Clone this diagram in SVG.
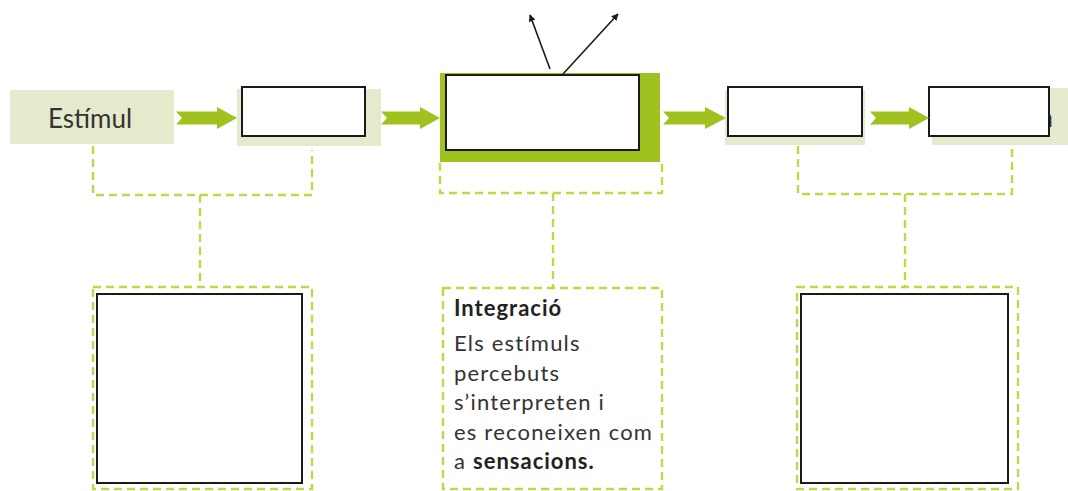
<svg xmlns="http://www.w3.org/2000/svg" width="1068" height="491" viewBox="0 0 1068 491">
<style>
.bg{fill:#e4eacb}
.wbox{fill:#ffffff;stroke:#1a1a1a;stroke-width:2}
.garrow{fill:#9fc21f}
.dash{fill:none;stroke:#bfd843;stroke-width:2.4;stroke-dasharray:8 5}
.blk{stroke:#1a1a1a;stroke-width:1.6;fill:none}
.t{font-family:Lato,"Open Sans",sans-serif;fill:#333333}
.tb{font-family:Lato,"Open Sans",sans-serif;font-weight:bold;fill:#222222}
</style>
<defs>
<marker id="ah" viewBox="0 0 10 10" refX="9" refY="5" markerWidth="7" markerHeight="7" orient="auto" markerUnits="userSpaceOnUse">
<path d="M0,0 L10,5 L0,10 Z" fill="#1a1a1a"/>
</marker>
</defs>
<rect width="1068" height="491" fill="#ffffff"/>

<g id="node-estimul">
<rect class="bg" x="10" y="90" width="164" height="54"/>
<text class="t" x="48" y="128" font-size="26">Estímul</text>
</g>

<g id="node-2">
<rect class="bg" x="237" y="89" width="144" height="57"/>
<rect class="wbox" x="242" y="87" width="123" height="49"/>
</g>

<g id="node-center">
<rect x="440" y="73" width="220" height="89" fill="#9fc21f"/>
<rect class="wbox" x="446" y="75" width="193" height="75"/>
</g>

<g id="node-4">
<rect class="bg" x="725" y="90" width="140" height="55"/>
<rect class="wbox" x="728" y="87" width="134" height="49"/>
</g>

<g id="node-5">
<rect class="bg" x="932" y="88" width="136" height="57"/>
<text class="t" x="1040" y="127" font-size="26">a</text>
<rect class="wbox" x="929" y="87" width="120" height="49"/>
</g>

<g id="node-box-left">
<rect class="dash" x="93" y="287" width="219" height="202"/>
<rect class="wbox" x="97" y="294" width="205" height="189"/>
</g>

<g id="node-box-center">
<rect class="dash" x="443" y="288" width="219" height="201"/>
<text class="tb" x="454" y="316" font-size="22" letter-spacing="1">Integració</text>
<text class="t" font-size="22" letter-spacing="1.2">
<tspan x="454" y="351">Els estímuls</tspan>
<tspan x="454" y="380.5">percebuts</tspan>
<tspan x="454" y="410">s’interpreten i</tspan>
<tspan x="454" y="439.5">es reconeixen com</tspan>
<tspan x="454" y="469">a <tspan class="tb" font-weight="bold" letter-spacing="1">sensacions.</tspan></tspan>
</text>
</g>

<g id="node-box-right">
<rect class="dash" x="797" y="287" width="221" height="202"/>
<rect class="wbox" x="801" y="294" width="207" height="189"/>
</g>

<g id="connectors">
<path class="garrow" d="M176,111.5 H217 V107 L237,118 L217,129 V124.5 H176 L182,118 Z"/>
<path class="garrow" d="M381,111.5 H420 V107 L440,118 L420,129 V124.5 H381 L387,118 Z"/>
<path class="garrow" d="M663,111.5 H705 V107 L726,118 L705,129 V124.5 H663 L669,118 Z"/>
<path class="garrow" d="M870,111.5 H909 V107 L929,118 L909,129 V124.5 H870 L876,118 Z"/>

<line class="blk" x1="550" y1="69" x2="530" y2="15" marker-end="url(#ah)"/>
<line class="blk" x1="563" y1="74" x2="618" y2="14" marker-end="url(#ah)"/>

<path class="dash" d="M93,146 V195 H312 V150"/>
<path class="dash" d="M200,195 V287"/>
<path class="dash" d="M440,163 V193 H662 V163"/>
<path class="dash" d="M553,193 V288"/>
<path class="dash" d="M798,146 V194 H1012 V148"/>
<path class="dash" d="M905,194 V287"/>
</g>
</svg>
